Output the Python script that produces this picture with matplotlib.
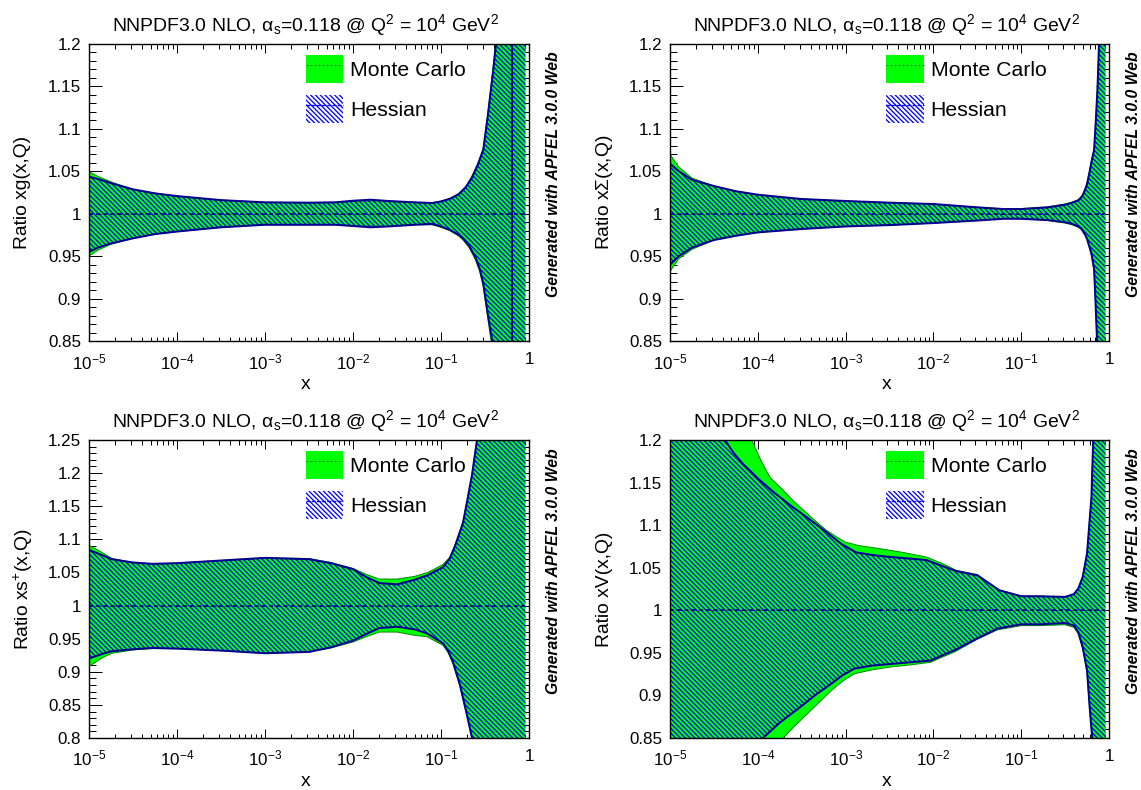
import matplotlib
matplotlib.use("Agg")
import matplotlib.pyplot as plt
import numpy as np
from matplotlib.lines import Line2D
from matplotlib.patches import Patch
from matplotlib.legend_handler import HandlerTuple
from matplotlib.ticker import MultipleLocator, FixedLocator

DPI = 115
PX = 72 / DPI
plt.rcParams.update({
    'font.family': 'Liberation Sans',
    'mathtext.fontset': 'custom',
    'mathtext.rm': 'Liberation Sans',
    'mathtext.it': 'Liberation Sans:italic',
    'mathtext.bf': 'Liberation Sans:bold',
    'mathtext.default': 'regular',
    'hatch.linewidth': 1.3 * PX,
    'axes.unicode_minus': False,
})

TITLE = r'NNPDF3.0 NLO, $\alpha_{s}$=0.118 @ Q$^{2}$ = 10$^{4}$ GeV$^{2}$'
SIDE = 'Generated with APFEL 3.0.0 Web'
XTICKS = [1e-5, 1e-4, 1e-3, 1e-2, 1e-1, 1]
XLABELS = [r'10$^{-5}$', r'10$^{-4}$', r'10$^{-3}$', r'10$^{-2}$', r'10$^{-1}$', '1']
HATCH = chr(92) * 8

# gluon (log10 x, value)
g_mc_up_x = [-5, -4.9, -4.75, -4.5, -4.25, -4, -3.5, -3, -2.5, -2.2, -2, -1.8, -1.6, -1.3, -1.1, -1, -.9, -.8, -.72, -.65, -.58, -.52, -.47, -.44, -.41, -.37, -.3, -.04]
g_mc_up_y = [1.0495, 1.044, 1.0375, 1.0285, 1.024, 1.0205, 1.016, 1.0134, 1.013, 1.0134, 1.0145, 1.015, 1.0148, 1.0134, 1.0126, 1.0147, 1.0178, 1.0235, 1.032, 1.044, 1.06, 1.077, 1.116, 1.142, 1.17, 1.21, 1.6, 4]
g_mc_lo_x = [-5, -4.9, -4.75, -4.5, -4.25, -4, -3.5, -3, -2.5, -2.2, -2, -1.8, -1.6, -1.3, -1.1, -1, -.9, -.8, -.75, -.68, -.61, -.56, -.52, -.47, -.43, -.4, -.3, -.04]
g_mc_lo_y = [.95, .957, .964, .971, .976, .979, .984, .987, .987, .987, .986, .9855, .985, .987, .987, .984, .98, .974, .969, .96, .946, .932, .914, .878, .85, .82, .4, -2]
g_he_up_x = [-5, -4.9, -4.75, -4.5, -4.25, -4, -3.5, -3, -2.5, -2.2, -2, -1.8, -1.6, -1.3, -1.1, -1, -.9, -.8, -.72, -.65, -.58, -.52, -.47, -.44, -.41, -.375, -.3, -.193, -.193, -.04]
g_he_up_y = [1.0436, 1.041, 1.036, 1.0287, 1.024, 1.0208, 1.016, 1.0134, 1.013, 1.0134, 1.0153, 1.0165, 1.015, 1.0134, 1.0126, 1.0145, 1.0175, 1.023, 1.031, 1.042, 1.058, 1.075, 1.114, 1.14, 1.166, 1.2, 1.6, 5, -5, -3]
g_he_lo_x = [-5, -4.9, -4.75, -4.5, -4.25, -4, -3.5, -3, -2.5, -2.2, -2, -1.8, -1.6, -1.3, -1.1, -1, -.9, -.8, -.75, -.68, -.61, -.56, -.52, -.47, -.42, -.38, -.3, -.193, -.193, -.04]
g_he_lo_y = [.955, .96, .965, .971, .976, .979, .984, .987, .987, .987, .9855, .984, .985, .987, .988, .985, .981, .975, .971, .962, .949, .935, .918, .883, .851, .82, .4, -5, 5, 3]

# singlet
s_x = [-5, -4.9, -4.75, -4.5, -4.25, -4, -3.5, -3, -2.5, -2, -1.5, -1.2, -1, -.7, -.5, -.42, -.35, -.32, -.3, -.27, -.25, -.22, -.2, -.17, -.15, -.13, -.114, -.04]
s_mc_up = [1.07, 1.055, 1.042, 1.0326, 1.0265, 1.0224, 1.0173, 1.015, 1.013, 1.0114, 1.0075, 1.0058, 1.006, 1.008, 1.0115, 1.0135, 1.0165, 1.0195, 1.0225, 1.03, 1.036, 1.051, 1.062, 1.076, 1.11, 1.15, 1.2, 2.5]
s_he_up = [1.059, 1.05, 1.04, 1.0326, 1.0265, 1.0224, 1.0173, 1.015, 1.013, 1.0114, 1.0075, 1.0055, 1.0055, 1.0075, 1.0106, 1.013, 1.0157, 1.019, 1.0216, 1.029, 1.035, 1.05, 1.061, 1.075, 1.11, 1.15, 1.2, 2.5]
s_x_lo = [-5, -4.9, -4.75, -4.5, -4.25, -4, -3.5, -3, -2.5, -2, -1.5, -1.2, -1, -.7, -.5, -.42, -.35, -.32, -.3, -.27, -.25, -.22, -.2, -.17, -.155, -.136, -.12, -.04]
s_mc_lo = [.932, .947, .958, .969, .974, .978, .982, .985, .9866, .989, .992, .9945, .9945, .992, .989, .987, .984, .982, .979, .974, .969, .959, .951, .933, .9, .85, .8, -.5]
s_he_lo = [.94, .95, .96, .969, .974, .978, .982, .985, .9866, .989, .992, .994, .994, .9925, .99, .988, .985, .983, .98, .975, .9705, .96, .953, .935, .9, .85, .8, -.5]

# strange
t_x_up = [-5, -4.85, -4.74, -4.5, -4.28, -4, -3.5, -3, -2.5, -2.25, -2, -1.85, -1.7, -1.5, -1.3, -1.15, -.977, -.9, -.84, -.75, -.7, -.648, -.591, -.5, -.04]
t_mc_up = [1.091, 1.08, 1.071, 1.065, 1.063, 1.064, 1.068, 1.072, 1.071, 1.065, 1.056, 1.047, 1.04, 1.04, 1.044, 1.05, 1.062, 1.073, 1.092, 1.126, 1.16, 1.197, 1.25, 1.6, 3]
t_he_up = [1.084, 1.076, 1.07, 1.065, 1.063, 1.064, 1.068, 1.072, 1.07, 1.064, 1.055, 1.043, 1.034, 1.032, 1.039, 1.046, 1.058, 1.071, 1.09, 1.125, 1.16, 1.197, 1.25, 1.6, 3]
t_x_lo = [-5, -4.85, -4.74, -4.5, -4.28, -4, -3.5, -3, -2.5, -2.25, -2, -1.85, -1.7, -1.5, -1.3, -1.16, -.977, -.92, -.864, -.784, -.705, -.648, -.58, -.04]
t_mc_lo = [.908, .921, .928, .933, .935, .935, .932, .928, .93, .936, .945, .953, .96, .96, .955, .953, .94, .929, .912, .878, .833, .8, .7, -1]
t_he_lo = [.92, .927, .931, .934, .936, .935, .932, .928, .93, .937, .947, .957, .966, .968, .964, .958, .943, .932, .915, .88, .835, .8, .7, -1]

# valence
v_mc_up_x = [-5, -4.5, -4.07, -3.96, -3.86, -3.72, -3.6, -3.4, -3.22, -3.1, -3, -2.85, -2.65, -2.35, -2.08, -1.9, -1.74, -1.5, -1.25, -1, -.8, -.5, -.4, -.35, -.3, -.25, -.2, -.18, -.04]
v_mc_up_y = [1.5, 1.32, 1.2, 1.175, 1.156, 1.142, 1.129, 1.11, 1.094, 1.086, 1.08, 1.076, 1.073, 1.068, 1.0625, 1.055, 1.047, 1.042, 1.024, 1.0165, 1.0165, 1.016, 1.019, 1.0255, 1.039, 1.067, 1.133, 1.2, 3]
v_he_up_x = [-5, -4.6, -4.375, -4.27, -4.17, -3.98, -3.8, -3.6, -3.4, -3.22, -3.05, -2.88, -2.7, -2.53, -2.3, -2.08, -1.9, -1.74, -1.5, -1.25, -1, -.8, -.5, -.4, -.35, -.3, -.25, -.2, -.18, -.04]
v_he_up_y = [1.4, 1.27, 1.2, 1.184, 1.172, 1.153, 1.137, 1.121, 1.106, 1.092, 1.078, 1.068, 1.065, 1.063, 1.061, 1.059, 1.052, 1.046, 1.041, 1.0235, 1.0165, 1.0165, 1.0157, 1.019, 1.0255, 1.039, 1.067, 1.133, 1.2, 3]
v_mc_lo_x = [-5, -4.3, -3.71, -3.6, -3.47, -3.3, -3.16, -3.03, -2.9, -2.7, -2.48, -2.25, -2.03, -1.9, -1.76, -1.5, -1.27, -1, -.8, -.5, -.4, -.35, -.3, -.25, -.22, -.19, -.04]
v_mc_lo_y = [.5, .7, .85, .862, .875, .892, .906, .917, .9255, .93, .9335, .936, .939, .945, .951, .966, .977, .982, .982, .983, .98, .972, .955, .927, .884, .847, -1]
v_he_lo_x = [-5, -4.4, -3.94, -3.75, -3.54, -3.35, -3.16, -3.03, -2.9, -2.7, -2.48, -2.25, -2.03, -1.9, -1.76, -1.5, -1.27, -1, -.8, -.5, -.4, -.35, -.3, -.25, -.22, -.19, -.04]
v_he_lo_y = [.55, .73, .85, .868, .8845, .9, .914, .924, .9315, .935, .937, .939, .941, .947, .953, .967, .9785, .9835, .9835, .985, .982, .9745, .957, .9295, .886, .849, -1]

W, H = 1141, 790
C_GREEN = '#00ff00'
C_GLINE = '#008a00'
C_BLUE = '#0000ff'
C_NAVY = '#000090'


def draw(ax, xu, yu, xl, yl, face, edge, line_c, lw, hatch=None, z=2):
    xu, xl = 10.0 ** np.array(xu), 10.0 ** np.array(xl)
    verts_x = np.concatenate([xu, xl[::-1]])
    verts_y = np.concatenate([yu, yl[::-1]])
    ax.fill(verts_x, verts_y, facecolor=face, edgecolor=edge, linewidth=0, hatch=hatch, zorder=z)
    ax.plot(xu, yu, color=line_c, lw=lw, zorder=z + .1, solid_joinstyle='round')
    ax.plot(xl, yl, color=line_c, lw=lw, zorder=z + .1, solid_joinstyle='round')
    return [xu[0], xu[-1]]


def panel(box, ylim, ylabel, mc, he):
    l, t, r, b = box
    ax = fig.add_axes([l / W, 1 - b / H, (r - l) / W, (b - t) / H])
    xr = draw(ax, *mc, C_GREEN, 'none', C_GLINE, 1.0 * PX, None, 2)
    ax.plot(xr, [1, 1], color=C_GLINE, lw=1.0 * PX, ls=(0, (3, 2)), zorder=2.2)
    draw(ax, *he, 'none', C_BLUE, C_NAVY, 2.0 * PX, HATCH, 3)
    ax.plot(xr, [1, 1], color=C_NAVY, lw=1.6 * PX, ls=(0, (2.5, 2)), zorder=3.2)

    ax.set_xscale('log')
    ax.set_xlim(1e-5, 1)
    ax.set_ylim(*ylim)
    ax.set_xticks(XTICKS, XLABELS)
    ax.xaxis.set_minor_locator(FixedLocator([m * 10.0 ** e for e in range(-5, 0) for m in range(2, 10)]))
    ax.xaxis.set_minor_formatter(plt.NullFormatter())
    ax.yaxis.set_major_locator(MultipleLocator(.05))
    ax.yaxis.set_minor_locator(MultipleLocator(.01))
    ax.yaxis.set_major_formatter(plt.FuncFormatter(lambda v, p: f'{v:.2f}'.rstrip('0').rstrip('.')))
    ax.tick_params(axis='both', which='both', direction='in', top=True, right=True, width=1.0 * PX, zorder=5)
    ax.tick_params(axis='x', which='major', length=9 * PX, labelsize=17 * PX, pad=11 * PX)
    ax.tick_params(axis='x', which='minor', length=4.5 * PX)
    ax.tick_params(axis='y', which='major', length=13 * PX, labelsize=17 * PX, pad=8 * PX)
    ax.tick_params(axis='y', which='minor', length=6.5 * PX)
    for s in ax.spines.values():
        s.set_linewidth(1.4 * PX)
        s.set_zorder(6)

    ax.text(.4925, 1.065, TITLE, transform=ax.transAxes, ha='center', va='center', fontsize=19.4 * PX)
    ax.set_xlabel('x', fontsize=19.3 * PX, labelpad=4 * PX, x=.493)
    ax.text(-.15, .5, ylabel, transform=ax.transAxes, rotation=90, ha='center', va='center', fontsize=19.3 * PX)
    ax.text(1.055, .56, SIDE, transform=ax.transAxes, rotation=90, ha='center', va='center',
            fontsize=15.7 * PX, fontweight='bold', fontstyle='italic')

    h1 = (Patch(facecolor=C_GREEN, edgecolor='none', linewidth=0),
          Line2D([0], [0], color=C_GLINE, lw=1.0 * PX, ls=(0, (2, 2))))
    h2 = (Patch(facecolor='white', edgecolor=C_BLUE, linewidth=0, hatch=HATCH),
          Line2D([0], [0], color=C_BLUE, lw=1.3 * PX, ls=(0, (3, 1))))
    ax.legend([h1, h2], ['Monte Carlo', 'Hessian'], handler_map={tuple: HandlerTuple(ndivide=1, pad=0)},
              loc='upper left', bbox_to_anchor=(.493, .963), frameon=False, borderpad=0, borderaxespad=0,
              fontsize=21.25 * PX, handlelength=1.75, handleheight=1.65, labelspacing=.55, handletextpad=.33)
    return ax


fig = plt.figure(figsize=(W / DPI, H / DPI), dpi=DPI, facecolor='white')

panel((89, 44, 529, 341), (.85, 1.2), 'Ratio xg(x,Q)',
      (g_mc_up_x, g_mc_up_y, g_mc_lo_x, g_mc_lo_y), (g_he_up_x, g_he_up_y, g_he_lo_x, g_he_lo_y))
panel((670, 44, 1109, 341), (.85, 1.2), r'Ratio x$\Sigma$(x,Q)',
      (s_x, s_mc_up, s_x_lo, s_mc_lo), (s_x, s_he_up, s_x_lo, s_he_lo))
panel((89, 440, 529, 738), (.8, 1.25), r'Ratio xs$^{+}$(x,Q)',
      (t_x_up, t_mc_up, t_x_lo, t_mc_lo), (t_x_up, t_he_up, t_x_lo, t_he_lo))
panel((670, 440, 1109, 738), (.85, 1.2), 'Ratio xV(x,Q)',
      (v_mc_up_x, v_mc_up_y, v_mc_lo_x, v_mc_lo_y), (v_he_up_x, v_he_up_y, v_he_lo_x, v_he_lo_y))

fig.savefig('out.png', dpi=DPI)
